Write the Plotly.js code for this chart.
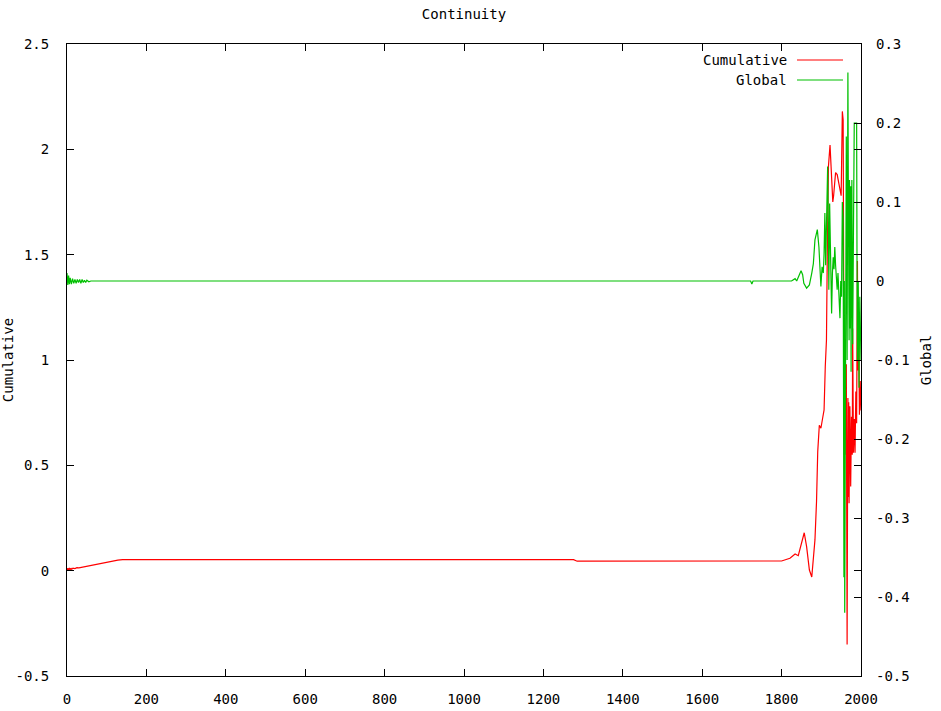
<!DOCTYPE html>
<html>
<head>
<meta charset="utf-8">
<script src="https://cdn.plot.ly/plotly-3.0.1.min.js"></script>
<style>
  html, body { margin: 0; padding: 0; background: #ffffff; }
  #chart { width: 941px; height: 711px; }
</style>
</head>
<body>
<div id="chart"></div>
<script>
// ---- data ----
const cumX = [0,2,4,6,8,10,12,15,20,25,30,40,50,60,75,90,100,115,128,140,1276,1285,1800,1821,1834,1842,1851,1857,1863,1870,1876,1880,1884,1888,1891,1895,1899,1903,1907,1910,1913,1915,1918,1922,1925,1929,1931,1936,1940,1945,1950,1953,1955,1957,1958,1960,1962,1963,1965,1966,1967,1968,1969,1970,1972,1974,1976,1978,1979,1981,1983,1985,1987,1989,1991,1992,1994,1996,1998,2000];
const cumY = [0.0,0.012,0.002,0.013,0.004,0.012,0.006,0.012,0.010,0.014,0.013,0.017,0.022,0.025,0.030,0.036,0.040,0.045,0.050,0.052,0.052,0.045,0.046,0.059,0.079,0.071,0.146,0.180,0.114,0.003,-0.030,0.084,0.146,0.330,0.565,0.690,0.676,0.720,0.763,0.968,1.095,1.490,1.920,2.020,1.900,1.750,1.780,1.890,1.880,1.830,1.780,2.180,2.140,1.050,0.550,1.100,0.550,0.980,-0.350,0.300,0.820,0.350,0.800,0.320,0.780,0.400,0.730,0.550,1.150,0.560,0.720,0.560,0.850,0.700,1.470,0.950,1.200,0.740,0.900,0.760];

const globX = [0,2,4,6,8,11,14,17,20,23,26,29,32,35,38,41,44,47,50,55,60,1722,1725,1728,1825,1834,1838,1845,1849,1853,1856,1863,1870,1876,1880,1884,1890,1894,1897,1899,1902,1905,1907,1909,1911,1913,1916,1918,1919,1921,1923,1926,1928,1930,1932,1934,1936,1938,1940,1942,1944,1947,1949,1951,1953,1955,1957,1958,1959,1961,1963,1965,1967,1968,1970,1971,1973,1974,1975,1977,1979,1981,1983,1985,1987,1989,1990,1991,1993,1995,1997,2000];
const globY = [0.010,-0.005,0.007,-0.004,0.004,-0.004,0.003,-0.003,0.002,-0.003,0.002,-0.002,0.002,-0.003,0.002,-0.002,0.001,-0.002,0.001,-0.001,0.0,0.0,-0.004,0.0,0.0,0.003,0.0,0.010,0.013,0.008,-0.003,-0.009,-0.005,0.010,0.022,0.052,0.065,0.043,0.018,-0.007,0.018,0.010,0.035,0.086,0.020,0.060,0.145,0.050,-0.011,0.098,0.030,-0.041,0.010,0.030,0.015,0.043,0.020,0.0,-0.011,0.010,-0.020,-0.047,0.0,-0.020,0.100,0.080,-0.375,0.0,-0.420,-0.200,0.183,-0.100,0.264,0.128,-0.075,0.128,-0.060,0.120,-0.115,0.128,-0.080,0.130,0.200,0.200,0.200,0.200,0.014,-0.100,0.0,-0.135,-0.020,-0.100];

const xTickVals = [0,200,400,600,800,1000,1200,1400,1600,1800,2000];
const xTickText = ["0","200","400","600","800","1000","1200","1400","1600","1800","2000"];
const yTickVals = [-0.5,0,0.5,1,1.5,2,2.5];
const yTickText = ["-0.5","0","0.5","1","1.5","2","2.5"];
const y2TickVals = [-0.5,-0.4,-0.3,-0.2,-0.1,0,0.1,0.2,0.3];
const y2TickText = ["-0.5","-0.4","-0.3","-0.2","-0.1","0","0.1","0.2","0.3"];

const seriesNames = ["Cumulative","Global"];
const seriesColors = ["#ff0000","#00c000"];

// ---- chart ----
const FONT = {family: "DejaVu Sans Mono, Liberation Mono, monospace", size: 14, color: "#000000"};

const traces = [
  {x: cumX, y: cumY, type: "scatter", mode: "lines", name: seriesNames[0],
   line: {color: seriesColors[0], width: 1.2}, yaxis: "y", showlegend: false},
  {x: globX, y: globY, type: "scatter", mode: "lines", name: seriesNames[1],
   line: {color: seriesColors[1], width: 1.2}, yaxis: "y2", showlegend: false}
];

const W = 941, H = 711;
const mL = 67, mR = 80, mT = 44, mB = 35;
const pw = W - mL - mR, ph = H - mT - mB;
function px2paperX(p) { return (p - mL) / pw; }
function px2paperY(p) { return (H - mB - p) / ph; }

const legendRows = [60, 80];
const annotations = seriesNames.map((n, i) => ({
  text: n, xref: "paper", yref: "paper",
  x: px2paperX(789), y: px2paperY(legendRows[i]),
  xanchor: "right", yanchor: "middle", showarrow: false, font: FONT
}));
const shapes = seriesNames.map((n, i) => ({
  type: "line", xref: "paper", yref: "paper",
  x0: px2paperX(797), x1: px2paperX(843),
  y0: px2paperY(legendRows[i]), y1: px2paperY(legendRows[i]),
  line: {color: seriesColors[i], width: 1.2}
}));

const axisCommon = {
  ticks: "inside", ticklen: 7, tickwidth: 1, tickcolor: "#000000",
  showline: true, linecolor: "#000000", linewidth: 1,
  showgrid: false, zeroline: false, tickfont: FONT, tickmode: "array"
};

const layout = {
  width: W, height: H,
  margin: {l: mL, r: mR, t: mT, b: mB, pad: 0},
  paper_bgcolor: "#ffffff", plot_bgcolor: "#ffffff",
  font: FONT,
  title: {text: "Continuity", font: FONT, x: 0.5, xref: "paper", xanchor: "center",
          y: 1 - 14 / H, yref: "container", yanchor: "middle"},
  xaxis: Object.assign({}, axisCommon, {
    range: [0, 2000], tickvals: xTickVals, ticktext: xTickText,
    mirror: "ticks", ticklabelstandoff: 10
  }),
  yaxis: Object.assign({}, axisCommon, {
    range: [-0.5, 2.5], tickvals: yTickVals, ticktext: yTickText,
    mirror: "ticks", ticklabelstandoff: 14,
    title: {text: "Cumulative", font: FONT, standoff: 37}
  }),
  yaxis2: Object.assign({}, axisCommon, {
    range: [-0.5, 0.3], tickvals: y2TickVals, ticktext: y2TickText,
    overlaying: "y", side: "right", showline: false, ticklabelstandoff: 14,
    title: {text: "Global", font: FONT, standoff: 12}
  }),
  annotations: annotations,
  shapes: shapes,
  showlegend: false
};

Plotly.newPlot("chart", traces, layout, {staticPlot: true, displayModeBar: false});
</script>
</body>
</html>
